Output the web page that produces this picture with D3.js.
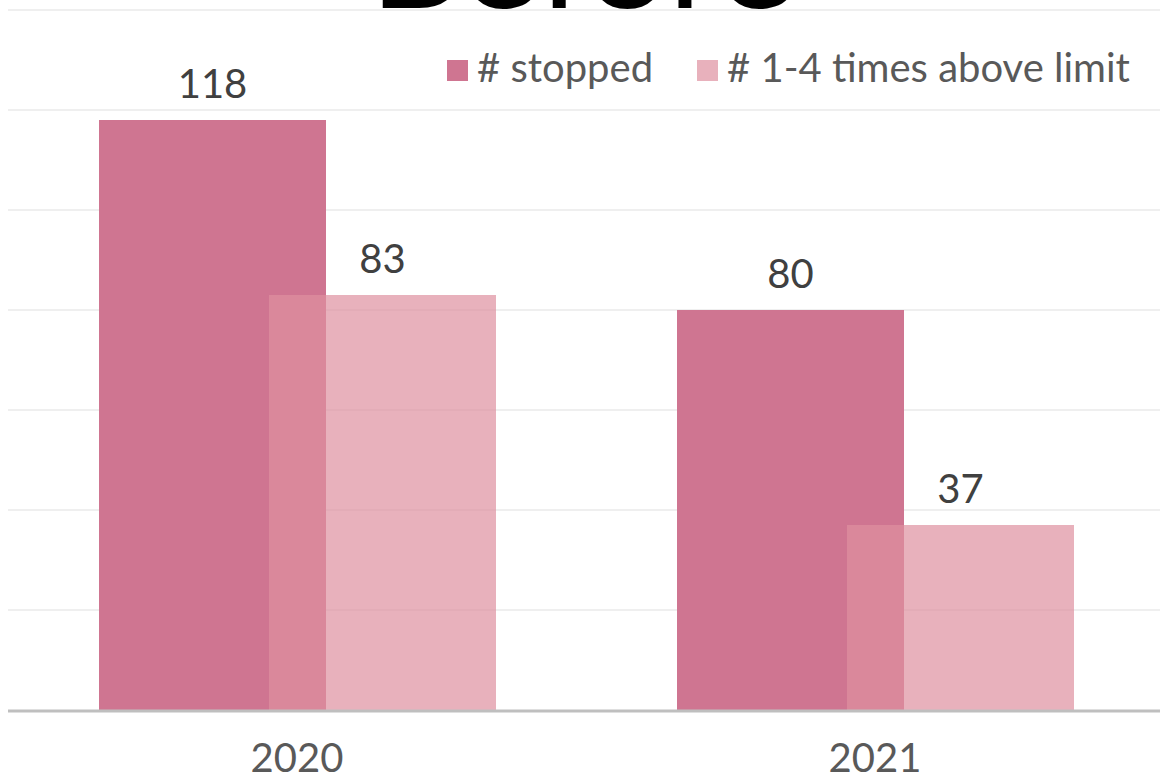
<!DOCTYPE html>
<html>
<head>
<meta charset="utf-8">
<script src="https://cdn.jsdelivr.net/npm/d3@7"></script>
<style>
  body { margin: 0; background: #fff; }
  text { font-family: "Lato", "Noto Sans", sans-serif; }
</style>
</head>
<body>
<div id="chart"></div>
<script>
// Data arrays
let years = ["2020", "2021"];
let seriesNames = ["# stopped", "# 1-4 times above limit"];
let stopped = [118, 80];
let aboveLimit = [83, 37];
let yTicks = [0, 20, 40, 60, 80, 100, 120, 140];

let width = 1160, height = 779;
let colors = ["#cf7591", "#de909f"];

let svg = d3.select("#chart")
  .append("svg")
  .attr("width", width)
  .attr("height", height);

let x = d3.scaleBand().domain(years).range([8, 1164]);
let y = d3.scaleLinear().domain([0, 140]).range([710, 10]);

// gridlines
svg.selectAll("line.grid")
  .data(yTicks.slice(1))
  .enter()
  .append("line")
  .attr("class", "grid")
  .attr("x1", 8).attr("x2", width)
  .attr("y1", d => y(d)).attr("y2", d => y(d))
  .attr("stroke", "#efefef")
  .attr("stroke-width", 2);

// title (mostly off the top)
svg.append("text")
  .attr("x", 582)
  .attr("y", 8)
  .attr("text-anchor", "middle")
  .attr("font-size", 130)
  .attr("textLength", 425)
  .attr("lengthAdjust", "spacingAndGlyphs")
  .attr("fill", "#000")
  .text("Before");

let barW = 227;
let offsets = [-198, -28];
let series = [stopped, aboveLimit];

series.forEach(function(vals, s) {
  let rows = years.map((yr, i) => ({ yr: yr, v: vals[i] }));
  svg.selectAll("rect.s" + s)
    .data(rows)
    .enter()
    .append("rect")
    .attr("class", "s" + s)
    .attr("x", d => x(d.yr) + x.bandwidth() / 2 + offsets[s])
    .attr("width", barW)
    .attr("y", d => y(d.v))
    .attr("height", d => y(0) - y(d.v))
    .attr("fill", colors[s])
    .attr("fill-opacity", s === 0 ? 1 : 0.7);

  svg.selectAll("text.l" + s)
    .data(rows)
    .enter()
    .append("text")
    .attr("class", "l" + s)
    .attr("x", d => x(d.yr) + x.bandwidth() / 2 + offsets[s] + barW / 2)
    .attr("y", d => y(d.v) - 22)
    .attr("text-anchor", "middle")
    .attr("font-size", 40)
    .attr("fill", "#404040")
    .text(d => d.v);
});

// baseline
svg.append("line")
  .attr("x1", 8).attr("x2", width)
  .attr("y1", y(0) + 1).attr("y2", y(0) + 1)
  .attr("stroke", "#bfbfbf")
  .attr("stroke-width", 3);

// x axis labels
let xAxis = d3.axisBottom(x).tickSize(0).tickPadding(0);
let gx = svg.append("g").attr("transform", "translate(0,744)").call(xAxis);
gx.select(".domain").remove();
gx.selectAll("text")
  .attr("font-size", 40)
  .attr("font-family", "Lato, 'Noto Sans', sans-serif")
  .attr("fill", "#595959");

// legend
let legendX = [447, 697];
let leg = svg.selectAll("g.leg")
  .data(seriesNames)
  .enter()
  .append("g")
  .attr("class", "leg")
  .attr("transform", (d, i) => "translate(" + legendX[i] + ",60)");
leg.append("rect")
  .attr("width", 21).attr("height", 21)
  .attr("fill", (d, i) => colors[i])
  .attr("fill-opacity", (d, i) => i === 0 ? 1 : 0.7);
leg.append("text")
  .attr("x", 30)
  .attr("y", 22)
  .attr("font-size", 40)
  .attr("fill", "#595959")
  .text(d => d);
</script>
</body>
</html>
